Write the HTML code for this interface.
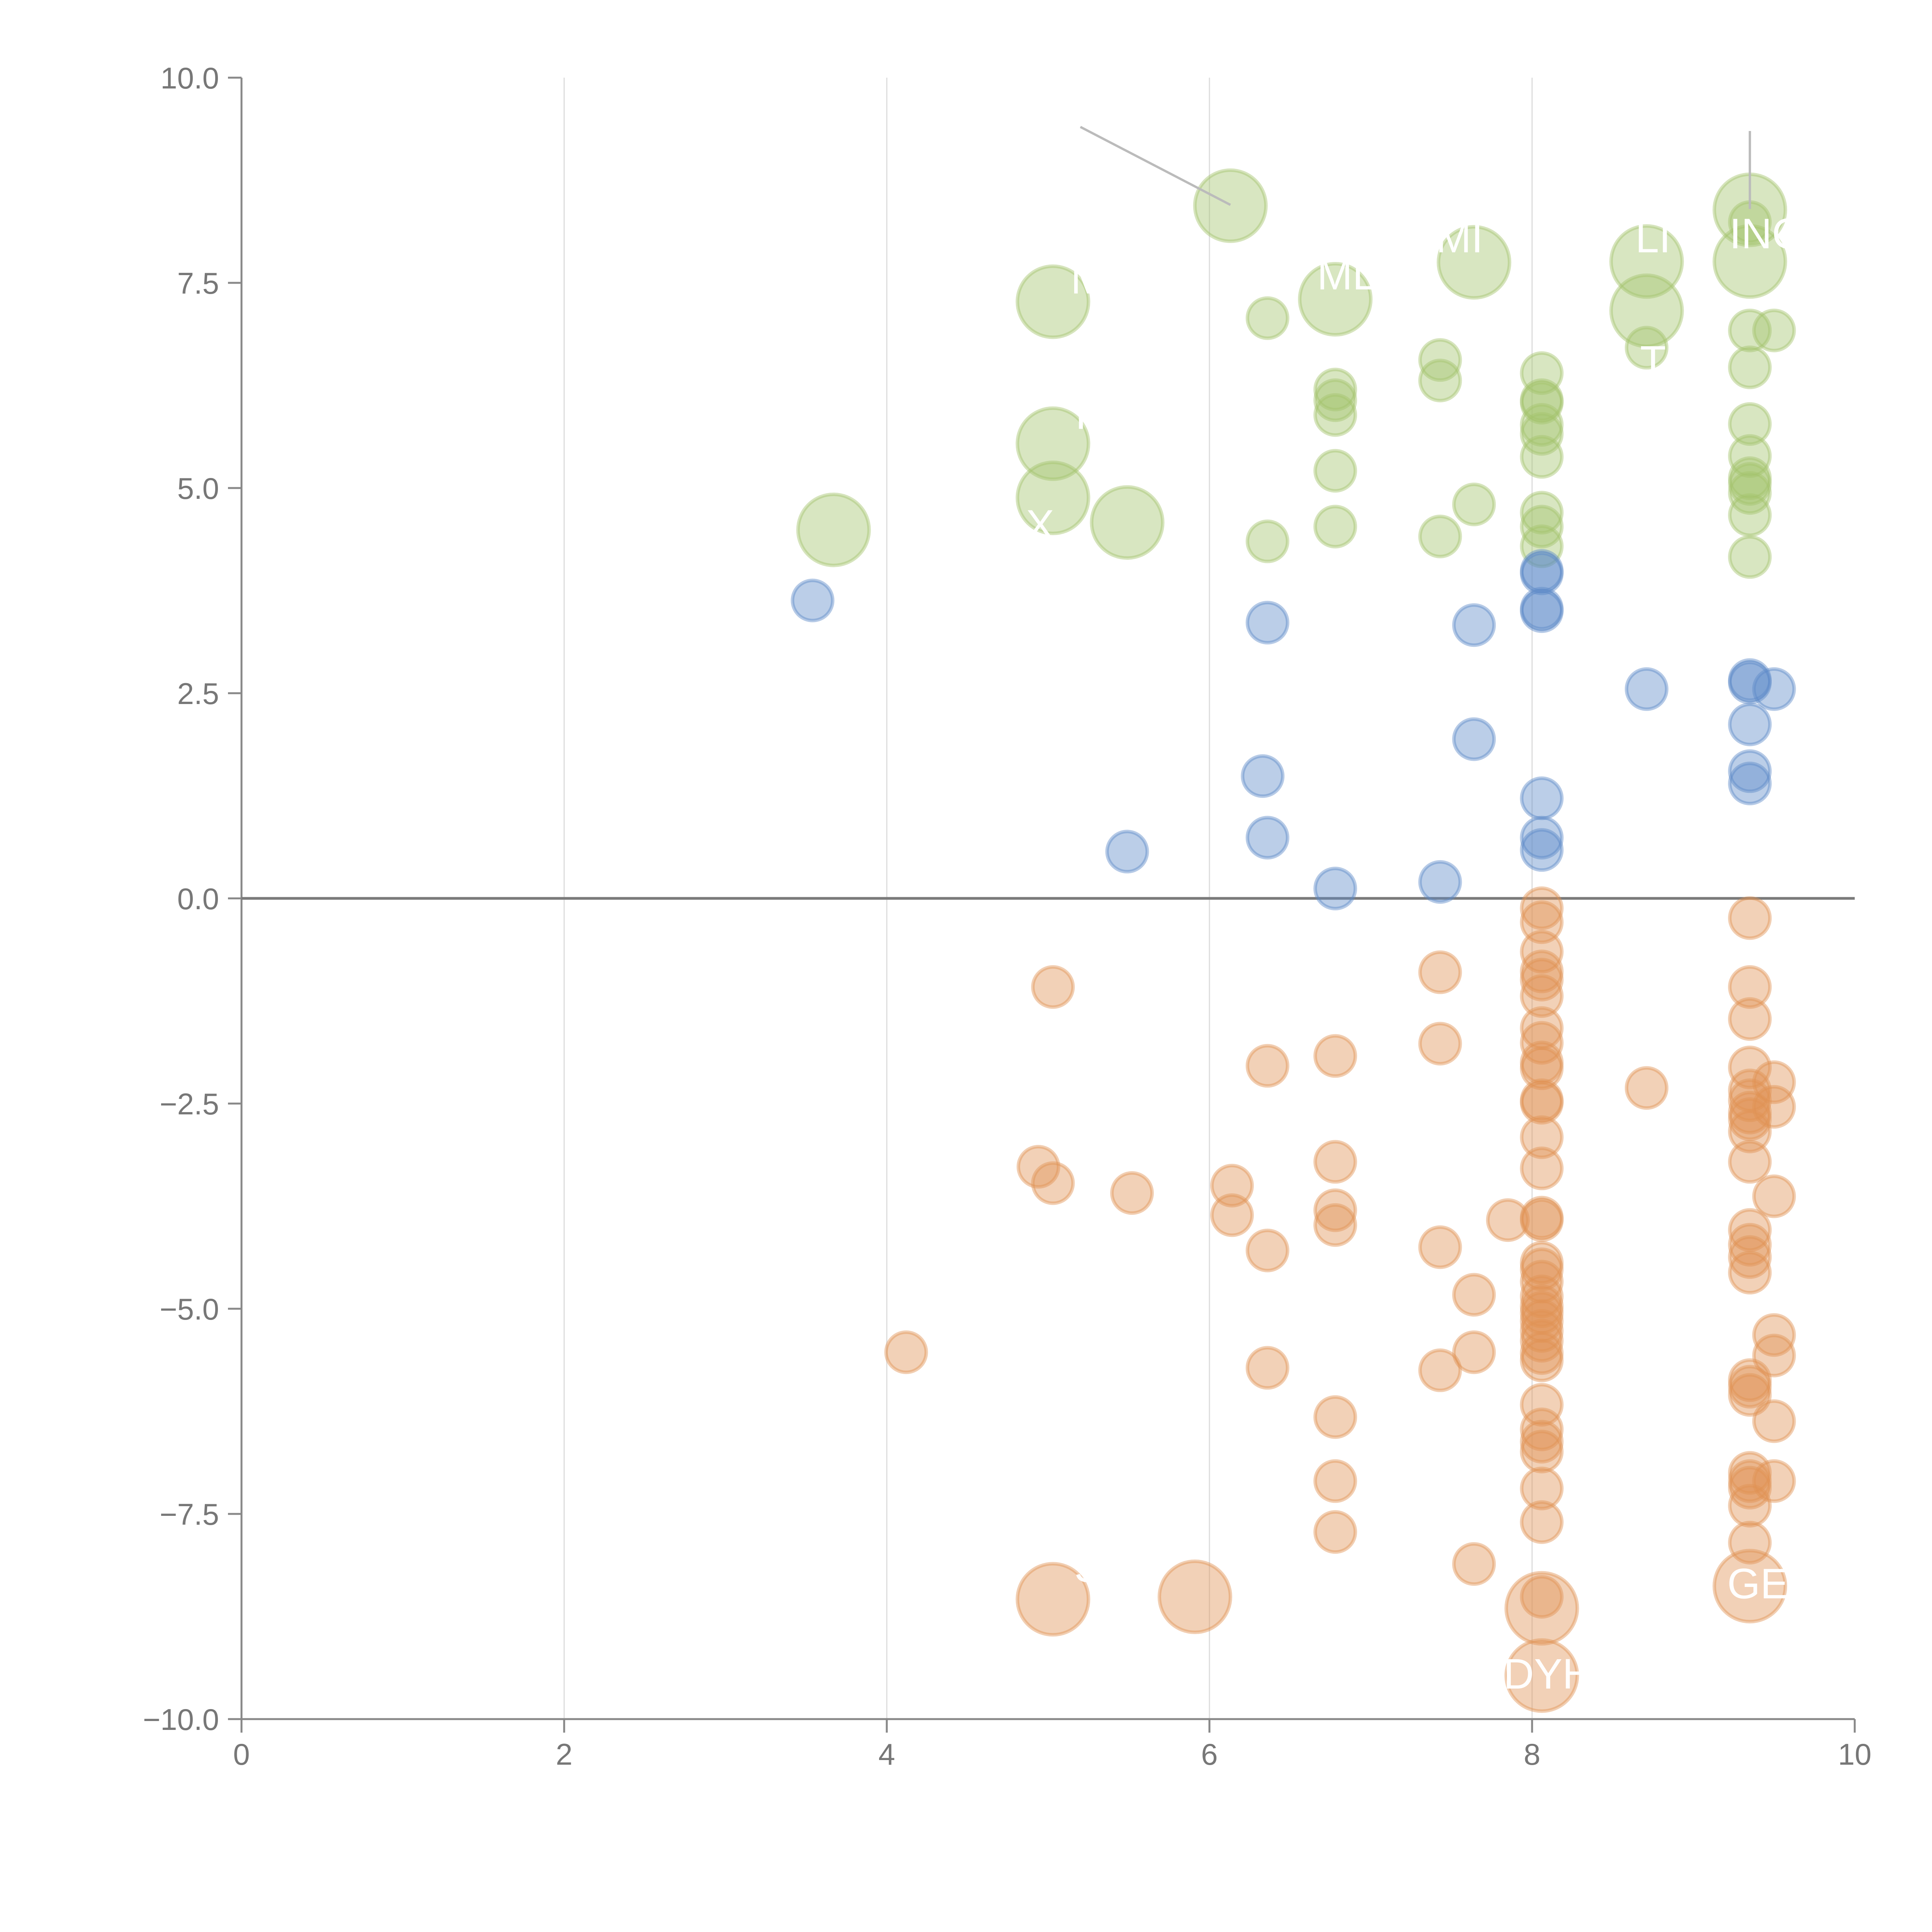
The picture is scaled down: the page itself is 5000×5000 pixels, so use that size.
<!DOCTYPE html>
<html><head><meta charset="utf-8"><style>
html,body{margin:0;padding:0;background:#fff}
svg{display:block;font-family:"Liberation Sans",Arial,sans-serif}
</style></head><body>
<svg id="chart" width="5000" height="5000" viewBox="0 0 5000 5000">
<g id="grid"></g>
<g id="axes"></g>
<g id="marks"></g>
<g id="labels"></g>
</svg>
<script>
const xTicks = [0,2,4,6,8,10];
const yTicks = [10,7.5,5,2.5,0,-2.5,-5,-7.5,-10];
const yTickLabels = ["10.0","7.5","5.0","2.5","0.0","\u22122.5","\u22125.0","\u22127.5","\u221210.0"];
const greenX = [6.13,9.35,9.35,9.35,8.71,8.71,8.71,7.64,6.78,5.03,6.36,9.35,9.50,9.35,7.43,7.43,6.78,6.78,6.78,8.06,8.06,8.06,8.06,8.06,8.06,9.35,9.35,9.35,9.35,9.35,9.35,9.35,5.03,6.78,5.03,7.64,3.67,5.49,6.36,6.78,7.43,8.06,8.06,8.06];
const greenY = [8.44,8.39,8.24,7.76,7.76,7.16,6.71,7.75,7.30,7.27,7.07,6.92,6.92,6.47,6.56,6.31,6.20,6.07,5.89,6.40,6.07,6.04,5.77,5.66,5.38,5.78,5.39,5.12,5.05,4.94,4.67,4.16,5.54,5.21,4.88,4.80,4.49,4.58,4.35,4.53,4.41,4.70,4.53,4.29];
const greenS = [3,3,1,3,3,3,1,3,3,3,1,1,1,1,1,1,1,1,1,1,1,1,1,1,1,1,1,1,1,1,1,1,3,1,3,1,3,3,1,1,1,1,1,1];
const blueX = [3.54,6.36,7.64,8.06,8.06,8.06,8.06,8.71,9.35,9.35,9.50,9.35,7.64,6.33,9.35,9.35,8.06,6.36,8.06,8.06,5.49,6.78,7.43];
const blueY = [3.63,3.36,3.33,3.99,3.96,3.53,3.50,2.55,2.66,2.63,2.55,2.12,1.94,1.49,1.55,1.40,1.22,0.74,0.74,0.59,0.57,0.12,0.20];
const orangeX = [8.06,8.06,9.35,8.06,8.06,8.06,7.43,5.03,9.35,8.06,9.35,8.06,8.06,7.43,6.78,8.06,8.06,6.36,9.35,8.71,9.50,9.35,9.35,8.06,8.06,9.50,9.35,9.35,9.35,8.06,6.78,9.35,4.94,8.06,5.03,6.14,5.52,9.50,6.78,6.14,7.85,8.06,8.06,6.78,9.35,9.35,7.43,6.36,9.35,8.06,8.06,9.35,8.06,7.64,8.06,8.06,8.06,8.06,8.06,9.50,8.06,4.12,7.64,9.50,8.06,8.06,6.36,7.43,9.35,9.35,9.35,8.06,6.78,9.50,8.06,8.06,8.06,6.78,9.35,9.35,9.35,9.50,8.06,9.35,8.06,6.78,9.35,7.64,8.06,5.03,5.91,8.06,9.35,8.06];
const orangeY = [-0.12,-0.29,-0.24,-0.65,-0.89,-0.99,-0.90,-1.08,-1.08,-1.19,-1.47,-1.58,-1.76,-1.77,-1.92,-2.00,-2.07,-2.04,-2.06,-2.31,-2.24,-2.34,-2.46,-2.46,-2.49,-2.54,-2.61,-2.69,-2.84,-2.91,-3.21,-3.21,-3.27,-3.29,-3.47,-3.50,-3.59,-3.63,-3.80,-3.86,-3.92,-3.89,-3.92,-3.98,-4.04,-4.22,-4.25,-4.29,-4.37,-4.44,-4.52,-4.56,-4.67,-4.83,-4.85,-4.97,-5.05,-5.15,-5.27,-5.32,-5.39,-5.53,-5.53,-5.57,-5.54,-5.63,-5.72,-5.75,-5.87,-5.95,-6.05,-6.17,-6.32,-6.37,-6.47,-6.62,-6.74,-7.10,-7.00,-7.10,-7.18,-7.10,-7.19,-7.40,-7.60,-7.72,-7.85,-8.11,-8.51,-8.54,-8.51,-8.65,-8.38,-9.47];
const orangeS = [1,1,1,1,1,1,1,1,1,1,1,1,1,1,1,1,1,1,1,1,1,1,1,1,1,1,1,1,1,1,1,1,1,1,1,1,1,1,1,1,1,1,1,1,1,1,1,1,1,1,1,1,1,1,1,1,1,1,1,1,1,1,1,1,1,1,1,1,1,1,1,1,1,1,1,1,1,1,1,1,1,1,1,1,1,1,1,1,1,3,3,3,3,3];
const labelText = ["INC","MI","LI","ML","M","F","J","X","Y","T","GE","DYH","S"];
const labelX = [9.45,7.55,8.75,6.85,5.25,5.25,3.95,4.95,5.85,8.75,9.4,8.1,5.25];
const labelY = [8.1,8.05,8.05,7.6,7.55,5.9,4.8,4.55,4.3,6.55,-8.35,-9.45,-8.15];

const X0=625, XS=417.5, YZ=2325, YS=212.4;
const sx = v => X0 + v*XS;
const sy = v => YZ - v*YS;
const rad = s => s===3 ? 92 : 52;
const NS="http://www.w3.org/2000/svg";
function mk(tag, attrs, parent){const e=document.createElementNS(NS,tag);for(const k in attrs)e.setAttribute(k,attrs[k]);parent.appendChild(e);return e;}
const grid=document.getElementById('grid'), axes=document.getElementById('axes'), marks=document.getElementById('marks'), labels=document.getElementById('labels');

xTicks.forEach(t=>{
  if(t>0&&t<10){const g=mk('line',{x1:sx(t),x2:sx(t),y1:sy(10),y2:sy(-10),stroke:'#dcdcdc','stroke-width':3},grid);
  
  }
  const tk=mk('line',{x1:sx(t),x2:sx(t),y1:sy(-10),y2:sy(-10)+35,stroke:'#888','stroke-width':5},axes);
  
  
  const tl=mk('text',{x:sx(t),y:sy(-10)+118,'text-anchor':'middle','font-size':78,fill:'#777'},axes);
  tl.textContent=t;
  
  
});
yTicks.forEach((t,i)=>{
  const tk=mk('line',{x1:X0-35,x2:X0,y1:sy(t),y2:sy(t),stroke:'#888','stroke-width':5},axes);
  
  
  const tl=mk('text',{x:X0-58,y:sy(t)+28,'text-anchor':'end','font-size':78,fill:'#777'},axes);
  tl.textContent=yTickLabels[i];
  
  
});
const ya=mk('line',{x1:X0,x2:X0,y1:sy(10),y2:sy(-10),stroke:'#888','stroke-width':5},axes);


const xa=mk('line',{x1:X0,x2:sx(10),y1:sy(-10),y2:sy(-10),stroke:'#888','stroke-width':5},axes);


const zl=mk('line',{x1:X0,x2:sx(10),y1:sy(0),y2:sy(0),stroke:'#7a7a7a','stroke-width':7},axes);



function series(xs,ys,ss,fill,stroke,name){
  xs.forEach((x,i)=>{
    const c=mk('circle',{cx:sx(x),cy:sy(ys[i]),r:rad(ss?ss[i]:1),fill:fill,'fill-opacity':0.42,stroke:stroke,'stroke-opacity':0.45,'stroke-width':9},marks);
    
    
  });
}
series(greenX,greenY,greenS,'#a3c46c','#a3c46c','bubble-green');
series(blueX,blueY,null,'#5d8ac7','#5d8ac7','bubble-blue');
series(orangeX,orangeY,orangeS,'#e09254','#e09254','bubble-orange');

const l1=mk('line',{x1:sx(5.2),y1:sy(9.4),x2:sx(6.13),y2:sy(8.45),stroke:'#bbb','stroke-width':6},labels);


const l2=mk('line',{x1:sx(9.35),y1:sy(9.35),x2:sx(9.35),y2:sy(8.4),stroke:'#bbb','stroke-width':6},labels);


labelText.forEach((t,i)=>{
  const tx=mk('text',{x:sx(labelX[i]),y:sy(labelY[i])+38,'text-anchor':'middle','font-size':110,fill:'#fff'},labels);
  tx.textContent=t;
  
  
});
</script>
</body></html>
